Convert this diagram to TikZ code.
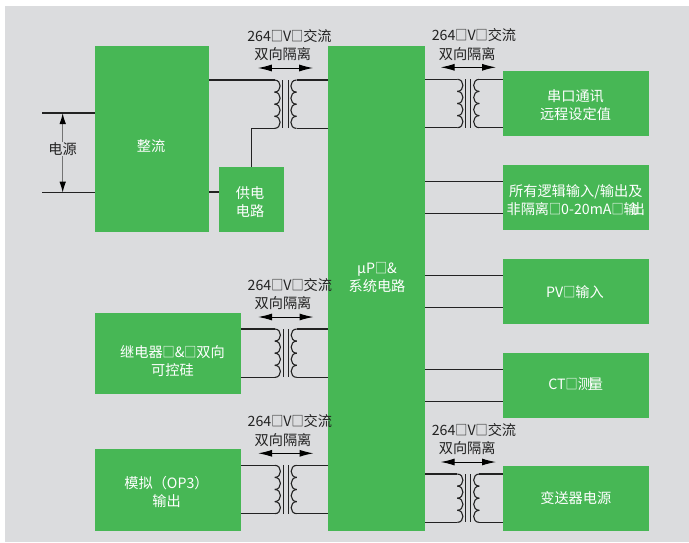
\documentclass[tikz,border=0pt]{standalone}
\usepackage{fontspec}
\setmainfont{Noto Sans CJK SC}
\usetikzlibrary{arrows.meta, positioning}
\definecolor{panelgray}{HTML}{DBDCDE}
\definecolor{blockgreen}{HTML}{47B755}
\definecolor{inkdark}{HTML}{222222}
\newcommand{\tofu}{\scalebox{0.85}[1]{□}}

\begin{document}
\begin{tikzpicture}[
    x=1pt, y=-1pt,
    font=\fontsize{14.2}{18.5}\selectfont,
    block/.style={fill=blockgreen, draw=none, inner sep=0pt},
    boxtext/.style={text=white, align=center, inner sep=0pt},
    wire/.style={draw=inkdark, line width=1.1pt},
    feed/.style={draw=black!55, line width=1.1pt, -{Latex[length=11pt,width=6.5pt,black]}},
    isolate/.style={draw=black, line width=1pt, {Latex[length=14pt,width=7pt]}-{Latex[length=14pt,width=7pt]}},
    pics/xfmr/.style={code={
        \coordinate (-tl) at (-11,0);
        \coordinate (-bl) at (-11,48.4);
        \coordinate (-tr) at (11,0);
        \coordinate (-br) at (11,48.4);
        \coordinate (-al) at (-27.7,-12);
        \coordinate (-ar) at (27.7,-12);
        \foreach \i in {0,1,2,3} {
            \draw[wire] (-11,12.1*\i) .. controls (-3.5,12.1*\i) and (-3.5,12.1*\i+12.1) .. (-11,12.1*\i+12.1);
            \draw[wire] (11,12.1*\i) .. controls (3.5,12.1*\i) and (3.5,12.1*\i+12.1) .. (11,12.1*\i+12.1);
        }
        \draw[wire] (-2.6,0) -- (-2.6,48.4);
        \draw[wire] (2.6,0) -- (2.6,48.4);
        \draw[isolate] (-al) -- (-ar);
        \node[text=inkdark, align=left, inner sep=0pt] (-text) at (#1,-35) {264\tofu V\tofu 交流\\\hspace*{7pt}双向隔离};
    }}
]
\useasboundingbox (0,0) rectangle (689,542);
\fill[panelgray] (5,6) rectangle (689,542);

% Blocks (left)
\node[block, minimum width=114pt, minimum height=186pt] (rectifier) at (152,139) {};
\node[block, minimum width=65pt, minimum height=65pt] (supply) at (251.5,199.5) {};
\node[block, minimum width=146pt, minimum height=81pt] (relay) at (168,353.5) {};
\node[block, minimum width=146pt, minimum height=82pt] (analog) at (168,490) {};

% Processor
\node[block, minimum width=97pt, minimum height=485pt] (cpu) at (376.5,288.5) {};

% Blocks (right)
\node[block, minimum width=146pt, minimum height=65pt] (serial) at (576,103.5) {};
\node[block, minimum width=146pt, minimum height=65pt] (logic) at (576,197.5) {};
\node[block, minimum width=146pt, minimum height=65pt] (pvin) at (576,291.5) {};
\node[block, minimum width=146pt, minimum height=65pt] (ctin) at (576,385.5) {};
\node[block, minimum width=146pt, minimum height=65pt] (txpower) at (576,498.5) {};

% Block texts
\node[boxtext] (rectifiertext) at (151,146) {整流};
\node[boxtext] (supplytext) at (250,202) {供电\\电路};
\node[boxtext] (relaytext) at (172.5,361) {继电器\tofu\&\tofu 双向\\可控硅};
\node[boxtext] (analogtext) at (166.5,492) {模拟（OP3）\\输出};
\node[boxtext] (cputext) at (377,277.5) {μP\tofu\&\\系统电路};
\node[boxtext] (serialtext) at (575.5,105) {串口通讯\\远程设定值};
\node[boxtext] (logictext) at (575.8,200) {所有逻辑输入/输出及\\非隔离\tofu 0-20mA\tofu 输\kern-7pt 出};
\node[boxtext] (pvintext) at (575,292) {PV\tofu 输入};
\node[boxtext] (ctintext) at (575.8,384) {CT\tofu 测\kern-3pt 量};
\node[boxtext] (txpowertext) at (575.8,498) {变送器电源};

% Transformers
\pic (xa) at (285.5,80) {xfmr=4};
\pic (xb) at (468.3,79.3) {xfmr=5.7};
\pic (xc) at (285.8,329) {xfmr=4};
\pic (xd) at (285.8,465.3) {xfmr=4};
\pic (xe) at (468.3,474) {xfmr=5.7};

% Mains input
\node[text=inkdark, inner sep=0pt] (mains) at (62.7,149) {电源};
\coordinate (mainshi) at (42,113);
\coordinate (mainslo) at (42,192.7);
\draw[wire] (mainshi) -- (rectifier.west |- mainshi);
\draw[wire] (mainslo) -- (rectifier.west |- mainslo);
\draw[feed] (mains.north) -- (mains.north |- mainshi);
\draw[feed] (mains.south) -- (mains.south |- mainslo);

% Left side flows
\draw[wire] (rectifier.east |- xa-tl) -- (xa-tl);
\draw[wire] (supply.north) |- (xa-bl);
\draw[wire] ([yshift=7.5pt]supply.west) -- ([yshift=7.5pt]supply.west -| rectifier.east);
\draw[wire] (xa-tr) -- (cpu.west |- xa-tr);
\draw[wire] (xa-br) -- (cpu.west |- xa-br);
\draw[wire] (relay.east |- xc-tl) -- (xc-tl);
\draw[wire] (relay.east |- xc-bl) -- (xc-bl);
\draw[wire] (xc-tr) -- (cpu.west |- xc-tr);
\draw[wire] (xc-br) -- (cpu.west |- xc-br);
\draw[wire] (analog.east |- xd-tl) -- (xd-tl);
\draw[wire] (analog.east |- xd-bl) -- (xd-bl);
\draw[wire] (xd-tr) -- (cpu.west |- xd-tr);
\draw[wire] (xd-br) -- (cpu.west |- xd-br);

% Right side flows
\draw[wire] (cpu.east |- xb-tl) -- (xb-tl);
\draw[wire] (cpu.east |- xb-bl) -- (xb-bl);
\draw[wire] (xb-tr) -- (serial.west |- xb-tr);
\draw[wire] (xb-br) -- (serial.west |- xb-br);
\draw[wire] ([yshift=16pt]logic.west -| cpu.east) -- ([yshift=16pt]logic.west);
\draw[wire] ([yshift=-16pt]logic.west -| cpu.east) -- ([yshift=-16pt]logic.west);
\draw[wire] ([yshift=16pt]pvin.west -| cpu.east) -- ([yshift=16pt]pvin.west);
\draw[wire] ([yshift=-16pt]pvin.west -| cpu.east) -- ([yshift=-16pt]pvin.west);
\draw[wire] ([yshift=16pt]ctin.west -| cpu.east) -- ([yshift=16pt]ctin.west);
\draw[wire] ([yshift=-16pt]ctin.west -| cpu.east) -- ([yshift=-16pt]ctin.west);
\draw[wire] (cpu.east |- xe-tl) -- (xe-tl);
\draw[wire] (cpu.east |- xe-bl) -- (xe-bl);
\draw[wire] (xe-tr) -- (txpower.west |- xe-tr);
\draw[wire] (xe-br) -- (txpower.west |- xe-br);

\end{tikzpicture}
\end{document}
